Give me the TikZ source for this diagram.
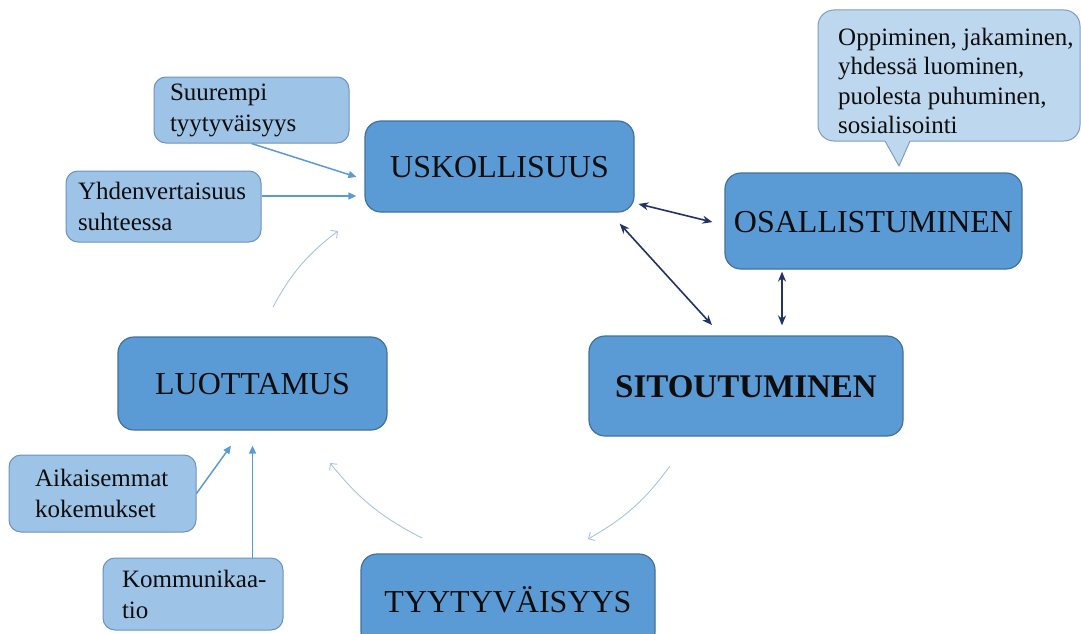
\documentclass[tikz,border=0pt]{standalone}
\usepackage{fontspec}
\setmainfont{Liberation Serif}
\usetikzlibrary{arrows.meta,calc}
\hyphenpenalty=10000
\exhyphenpenalty=10000
\definecolor{mainfill}{HTML}{5B9BD5}
\definecolor{mainborder}{HTML}{41719C}
\definecolor{lightfill}{HTML}{9DC3E6}
\definecolor{lightborder}{HTML}{6A92C2}
\definecolor{notefill}{HTML}{BDD7EE}
\definecolor{noteborder}{HTML}{7E9CC0}
\definecolor{arrowdark}{HTML}{1F3368}
\definecolor{arrowlight}{HTML}{5B9BD5}
\definecolor{arrowfaint}{HTML}{A8C2E0}
\begin{document}
\begin{tikzpicture}[x=1pt,y=-1pt,
  mainbox/.style={draw=mainborder, fill=mainfill, line width=1.2pt,
    rounded corners=16pt, inner sep=0pt, text=black!95,
    font=\fontsize{32}{36}\selectfont, text height=22pt, text depth=0pt},
  smallbox/.style={draw=lightborder, fill=lightfill, line width=1pt,
    rounded corners=12pt, inner ysep=0pt, align=left, text=black!95,
    font=\fontsize{25}{31}\selectfont},
  lightarrow/.style={draw=arrowlight, line width=1.5pt,
    -{Triangle[length=8pt,width=7pt]}},
  darkarrow/.style={draw=arrowdark, line width=1.6pt,
    {Stealth[length=10pt,width=8pt]}-{Stealth[length=10pt,width=8pt]}},
  faintarrow/.style={draw=arrowfaint, line width=0.9pt,
    -{Straight Barb[length=5pt,width=10pt]}}
]
\useasboundingbox (0,0) rectangle (1081,634);
\clip (0,0) rectangle (1081,634);

% main concepts
\node[mainbox, minimum width=269pt, minimum height=91pt] (usk) at (499.5,166.5) {USKOLLISUUS};
\node[mainbox, minimum width=297pt, minimum height=96pt] (osa) at (873.5,221) {OSALLISTUMINEN};
\node[mainbox, minimum width=314pt, minimum height=100pt, font=\fontsize{33}{36}\selectfont\bfseries] (sit) at (746,386) {SITOUTUMINEN};
\node[mainbox, minimum width=269pt, minimum height=93pt] (luo) at (252.5,383.5) {LUOTTAMUS};
\node[mainbox, minimum width=294pt, minimum height=94pt] (tyy) at (508,601) {TYYTYVÄISYYS};

% influencing factors
\node[smallbox, inner xsep=16pt, text width=163pt, minimum height=66pt] (sup) at (251.5,110) {Suurempi\\tyytyväisyys};
\node[smallbox, inner xsep=12pt, text width=171pt, minimum height=71pt] (yhd) at (163.5,206.5) {Yhdenvertaisuus\\suhteessa};
\node[smallbox, inner xsep=26pt, text width=135pt, minimum height=77pt] (aik) at (102.5,493.5) {Aikaisemmat\\kokemukset};
\node[smallbox, inner xsep=19pt, text width=142pt, minimum height=72pt] (kom) at (193,594) {Kommunikaa-\\tio};

% speech bubble with forms of participation
\filldraw[draw=noteborder, fill=notefill, line width=1pt, rounded corners=16pt] (818,10) rectangle (1080,141);
\fill[notefill] (884,139) -- (911,139) -- (899,166) -- cycle;
\draw[noteborder, line width=1pt, line join=round] (885,141) -- (899,166) -- (910,141);
\node[anchor=west, align=left, inner sep=0pt, text=black!95,
  font=\fontsize{25}{29.5}\selectfont] (note) at (838,81)
  {Oppiminen, jakaminen,\\yhdessä luominen,\\puolesta puhuminen,\\sosialisointi};

% factors feeding loyalty and trust
\draw[lightarrow, shorten >=8.4pt] (sup.south) -- ([yshift=-13pt]usk.west);
\draw[lightarrow, shorten >=8pt] ([yshift=10.5pt]yhd.east) -- ([yshift=-29.5pt]usk.west);
\draw[lightarrow, shorten >=18.5pt] (aik.east) -- ([xshift=-10.7pt]luo.south);
\draw[lightarrow, shorten >=15pt] (kom.north -| luo.south) -- (luo.south);

% two-way links between loyalty, participation and commitment
\draw[darkarrow, shorten <=4pt, shorten >=12.3pt] ([yshift=-36.5pt]usk.east) -- ([yshift=-4pt]osa.west);
\draw[darkarrow, shorten <=15pt, shorten >=14pt] ([xshift=-25pt]usk.south east) -- ([xshift=133pt]sit.north west);
\draw[darkarrow, shorten <=2pt, shorten >=10pt] ([xshift=-91.5pt]osa.south) -- ([xshift=-91.5pt]osa.south |- sit.north);

% cycle: commitment -> satisfaction -> trust -> loyalty
\coordinate (c1s) at (670,466);
\coordinate (c1e) at (588,539);
\coordinate (c2s) at (422,538);
\coordinate (c2e) at (330,463);
\coordinate (c3s) at (273,307);
\coordinate (c3e) at (338,231);
\draw[faintarrow] (c1s) to[bend left=12] (c1e);
\draw[faintarrow] (c2s) to[bend left=12] (c2e);
\draw[faintarrow] (c3s) to[bend left=12] (c3e);
\end{tikzpicture}
\end{document}
